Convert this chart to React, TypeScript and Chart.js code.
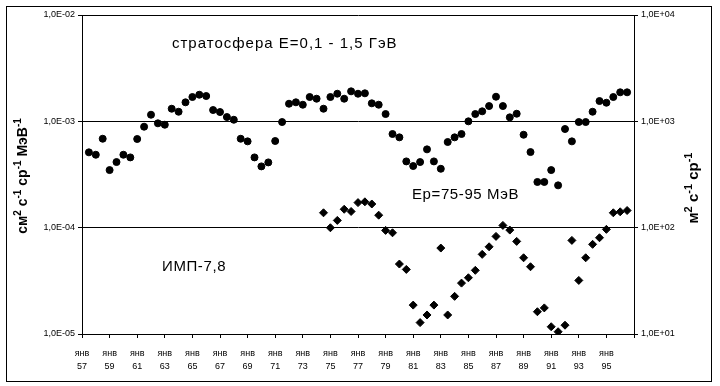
import React, { useEffect, useRef } from 'react';
import { Chart, registerables } from 'chart.js';

Chart.register(...registerables);

// x axis: half-year index, 0 = January 1957
const monthLabel = 'янв';
const yearLabels = ['57', '59', '61', '63', '65', '67', '69', '71', '73', '75', '77', '79', '81', '83', '85', '87', '89', '91', '93', '95'];
const xTickIndex = [0, 4, 8, 12, 16, 20, 24, 28, 32, 36, 40, 44, 48, 52, 56, 60, 64, 68, 72, 76, 80];

// stratosphere E=0.1-1.5 GeV, left axis (cm^-2 s^-1 sr^-1 MeV^-1), half-yearly from index 1
const stratoStart = 1;
const stratoValues = [
  5.11e-4, 4.85e-4, 6.86e-4, 3.48e-4, 4.14e-4, 4.85e-4, 4.58e-4, 6.82e-4, 8.9e-4, 1.154e-3,
  9.58e-4, 9.29e-4, 1.314e-3, 1.231e-3, 1.51e-3, 1.693e-3, 1.779e-3, 1.73e-3, 1.277e-3, 1.223e-3,
  1.098e-3, 1.035e-3, 6.86e-4, 6.48e-4, 4.58e-4, 3.77e-4, 4.11e-4, 6.53e-4, 9.85e-4, 1.464e-3,
  1.51e-3, 1.433e-3, 1.693e-3, 1.632e-3, 1.314e-3, 1.693e-3, 1.818e-3, 1.632e-3, 1.915e-3, 1.818e-3,
  1.835e-3, 1.477e-3, 1.433e-3, 1.171e-3, 7.6e-4, 7.07e-4, 4.2e-4, 3.8e-4, 4.14e-4, 5.45e-4,
  4.2e-4, 3.58e-4, 6.39e-4, 7.07e-4, 7.6e-4, 1.0e-3, 1.171e-3, 1.242e-3, 1.392e-3, 1.704e-3,
  1.392e-3, 1.09e-3, 1.179e-3, 7.48e-4, 5.14e-4, 2.69e-4, 2.69e-4, 3.48e-4, 2.5e-4, 8.47e-4,
  6.48e-4, 9.85e-4, 9.85e-4, 1.231e-3, 1.552e-3, 1.496e-3, 1.693e-3, 1.875e-3, 1.875e-3,
];

// IMP-7,8 Ep=75-95 MeV, right axis (m^-2 s^-1 sr^-1), half-yearly from index 35
const impStart = 35;
const impValues = [
  138, 99.8, 117, 149, 142, 172, 175, 167, 131, 94.3,
  89.5, 45.5, 40.5, 18.7, 12.8, 15.1, 18.7, 64.3, 15.1, 22.6,
  30.1, 33.8, 39.7, 56.1, 66.1, 82.8, 105, 94.9, 74.3, 52.1,
  42.9, 16.2, 17.6, 11.7, 10.5, 12.1, 75.9, 31.9, 52.1, 69.7,
  80.4, 96.4, 138, 141, 145,
];

const leftTicks = [1e-5, 1e-4, 1e-3, 1e-2];
const rightTicks = [10, 100, 1000, 10000];

const FONT = "'Liberation Sans', Arial, sans-serif";

const fmtE = (v: number) => {
  const e = Math.round(Math.log10(v));
  return '1,0E' + (e < 0 ? '-' : '+') + String(Math.abs(e)).padStart(2, '0');
};

type Seg = { t: string; sup?: boolean };

function drawRich(ctx: CanvasRenderingContext2D, segs: Seg[], cx: number, cy: number, size: number) {
  const supSize = Math.round(size * 0.72);
  const base = `bold ${size}px ${FONT}`;
  const small = `bold ${supSize}px ${FONT}`;
  let total = 0;
  const widths = segs.map((s) => {
    ctx.font = s.sup ? small : base;
    const w = ctx.measureText(s.t).width;
    total += w;
    return w;
  });
  ctx.save();
  ctx.translate(cx, cy);
  ctx.rotate(-Math.PI / 2);
  ctx.fillStyle = '#000';
  ctx.textBaseline = 'alphabetic';
  ctx.textAlign = 'left';
  let x = -total / 2;
  const baseY = size * 0.36;
  segs.forEach((s, i) => {
    ctx.font = s.sup ? small : base;
    ctx.fillText(s.t, x, s.sup ? baseY - size * 0.42 : baseY);
    x += widths[i];
  });
  ctx.restore();
}

const leftTitle: Seg[] = [
  { t: 'см' }, { t: '2', sup: true }, { t: ' с' }, { t: '-1', sup: true },
  { t: ' ср' }, { t: '-1', sup: true }, { t: ' МэВ' }, { t: '-1', sup: true },
];
const rightTitle: Seg[] = [
  { t: 'м' }, { t: '2', sup: true }, { t: ' с' }, { t: '-1', sup: true },
  { t: ' ср' }, { t: '-1', sup: true },
];

const decorPlugin = {
  id: 'decor',
  afterDraw(chart: any) {
    const ctx: any = chart.ctx;
    ctx.save();
    ctx.strokeStyle = '#000';
    ctx.lineWidth = 1;
    ctx.strokeRect(6.5, 6.5, 705, 375);
    ctx.fillStyle = '#000';
    ctx.font = `15px ${FONT}`;
    ctx.textBaseline = 'alphabetic';
    ctx.textAlign = 'left';
    ctx.letterSpacing = '1px';
    ctx.fillText('стратосфера Е=0,1 - 1,5 ГэВ', 172, 48);
    ctx.letterSpacing = '0.6px';
    ctx.fillText('Ep=75-95 МэВ', 412, 199);
    ctx.fillText('ИМП-7,8', 162, 271);
    ctx.letterSpacing = '0px';
    ctx.restore();
    drawRich(ctx, leftTitle, 22, 176, 14);
    drawRich(ctx, rightTitle, 693, 188, 15);
  },
};

export default function App() {
  const ref = useRef<HTMLCanvasElement | null>(null);
  useEffect(() => {
    document.body.style.margin = '0';
    const canvas = ref.current;
    if (!canvas) return;
    const tickFont = { family: FONT, size: 9, lineHeight: 1.45 };
    const chart = new Chart(canvas, {
      type: 'scatter',
      data: {
        datasets: [
          {
            label: 'стратосфера',
            data: stratoValues.map((v, i) => ({ x: stratoStart + i, y: v })),
            yAxisID: 'y',
            pointStyle: 'circle',
            pointRadius: 3.5,
            pointBorderWidth: 1,
            backgroundColor: '#000',
            borderColor: '#000',
            showLine: false,
          },
          {
            label: 'ИМП-7,8',
            data: impValues.map((v, i) => ({ x: impStart + i, y: v })),
            yAxisID: 'y2',
            pointStyle: 'rectRot',
            pointRadius: 4,
            pointBorderWidth: 1,
            backgroundColor: '#000',
            borderColor: '#000',
            showLine: false,
          },
        ],
      },
      options: {
        animation: false,
        responsive: false,
        maintainAspectRatio: false,
        devicePixelRatio: 1,
        layout: { padding: { top: 15, left: 0, right: 0, bottom: 0 } },
        plugins: { legend: { display: false }, tooltip: { enabled: false } },
        scales: {
          x: {
            type: 'linear',
            min: 0,
            max: 80,
            afterFit: (s: any) => { s.height = 52; },
            afterBuildTicks: (s: any) => { s.ticks = xTickIndex.map((v) => ({ value: v })); },
            ticks: {
              autoSkip: false,
              maxRotation: 0,
              minRotation: 0,
              padding: 9,
              color: '#000',
              font: tickFont,
              callback: (_v: any, i: number) => (i < yearLabels.length ? [monthLabel, yearLabels[i]] : ''),
            },
            grid: { drawOnChartArea: false, tickLength: 4, color: '#000', lineWidth: 1 },
            border: { color: '#000', width: 1 },
          },
          y: {
            type: 'logarithmic',
            position: 'left',
            min: 1e-5,
            max: 1e-2,
            afterFit: (s: any) => { s.width = 82; },
            afterBuildTicks: (s: any) => { s.ticks = leftTicks.map((v) => ({ value: v })); },
            ticks: { color: '#000', font: { family: FONT, size: 9 }, padding: 3, callback: (v: any) => fmtE(Number(v)) },
            grid: { color: '#000', lineWidth: 1, tickLength: 4 },
            border: { color: '#000', width: 1 },
          },
          y2: {
            type: 'logarithmic',
            position: 'right',
            min: 10,
            max: 10000,
            afterFit: (s: any) => { s.width = 86; },
            afterBuildTicks: (s: any) => { s.ticks = rightTicks.map((v) => ({ value: v })); },
            ticks: { color: '#000', font: { family: FONT, size: 9 }, padding: 3, callback: (v: any) => fmtE(Number(v)) },
            grid: { drawOnChartArea: false, color: '#000', lineWidth: 1, tickLength: 4 },
            border: { color: '#000', width: 1 },
          },
        },
      },
      plugins: [decorPlugin],
    } as any);
    return () => chart.destroy();
  }, []);
  return (
    <div style={{ width: 720, height: 386, background: '#fff' }}>
      <canvas ref={ref} width={720} height={386} style={{ display: 'block' }} />
    </div>
  );
}
